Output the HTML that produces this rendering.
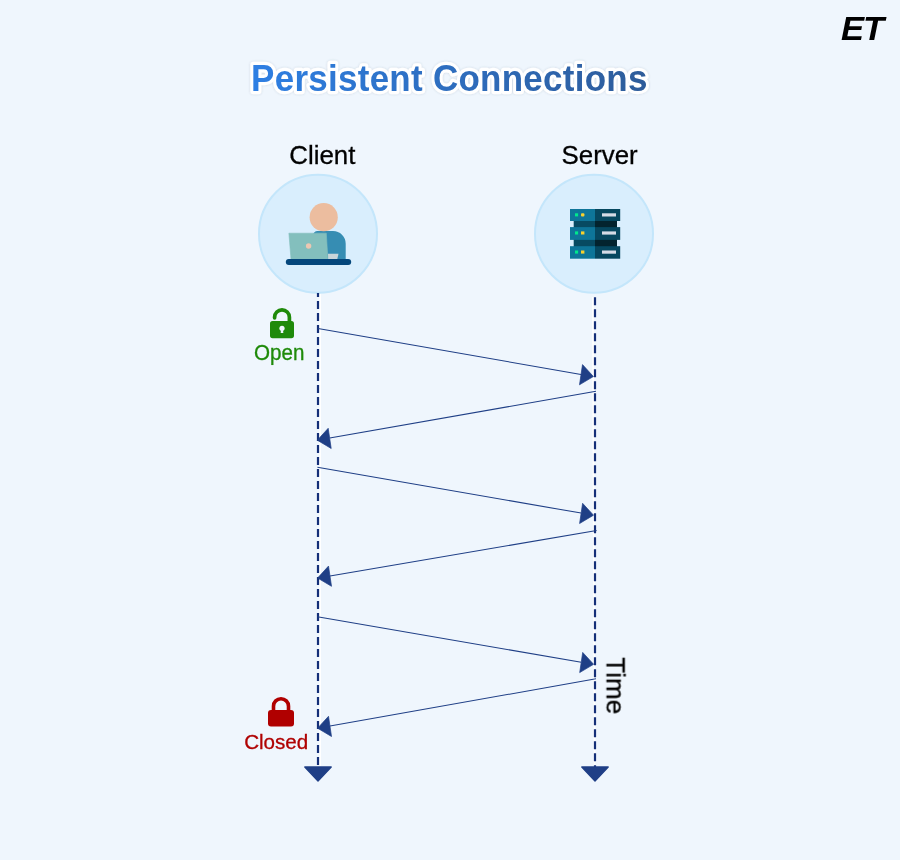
<!DOCTYPE html>
<html lang="en">
<head>
<meta charset="utf-8">
<title>Persistent Connections</title>
<style>
  html,body{margin:0;padding:0;}
  body{width:900px;height:860px;background:#eff6fd;position:relative;overflow:hidden;font-family:"Liberation Sans",sans-serif;}
  svg{position:absolute;left:0;top:0;}
  .logo{position:absolute;left:841.3px;top:11.2px;font-weight:bold;font-style:italic;font-size:32.3px;line-height:36px;color:#000;transform-origin:0 0;transform:scaleX(1.07);letter-spacing:-1px;}
</style>
</head>
<body>
<svg width="900" height="860" viewBox="0 0 900 860">
  <!-- circles -->
  <circle cx="318" cy="233.7" r="59" fill="#d9eefd" stroke="#c4e6fb" stroke-width="2"/>
  <circle cx="594" cy="233.7" r="59" fill="#d9eefd" stroke="#c4e6fb" stroke-width="2"/>

  <!-- client icon -->
  <g id="client">
    <path d="M312.7 259.2 V236 A5 5 0 0 1 317.7 231 H333 A12.7 12.7 0 0 1 345.7 243.7 V259.2 Z" fill="#368db3"/>
    <circle cx="323.7" cy="217.2" r="14.1" fill="#ecbd9f"/>
    <path d="M328 253.8 H338.5 L337.3 259 H328 Z" fill="#c9d5d9"/>
    <path d="M288.9 233.2 H326.3 L327.9 259.2 H291 Z" fill="#83bfbd" stroke="#83bfbd" stroke-width="0.6" stroke-linejoin="round"/>
    <circle cx="308.6" cy="246" r="2.7" fill="#ecc7b2"/>
    <rect x="285.8" y="259" width="65.4" height="6" rx="3" fill="#04477c"/>
  </g>

  <!-- server icon -->
  <g id="server">
    <rect x="573.7" y="220" width="21.3" height="27" fill="#074a62"/>
    <rect x="595" y="220" width="22" height="27" fill="#03232e"/>
    <g>
      <rect x="570" y="209" width="25" height="12" fill="#0e7599"/>
      <rect x="595" y="209" width="25.2" height="12" fill="#06475f"/>
      <rect x="575" y="213.3" width="3.1" height="3.1" fill="#00e98c"/>
      <rect x="581" y="213.3" width="3.4" height="3.1" rx="1" fill="#f8d12e"/>
      <rect x="602" y="213.3" width="14" height="3.2" fill="#d5dbe6"/>
    </g>
    <g transform="translate(0 18.1)">
      <rect x="570" y="209" width="25" height="12.8" fill="#0e7599"/>
      <rect x="595" y="209" width="25.2" height="12.8" fill="#06475f"/>
      <rect x="575" y="213.3" width="3.1" height="3.1" fill="#00e98c"/>
      <rect x="581" y="213.3" width="3.4" height="3.1" fill="#f8d12e"/>
      <rect x="602" y="213.3" width="14" height="3.2" fill="#d5dbe6"/>
    </g>
    <g transform="translate(0 37.2)">
      <rect x="570" y="209" width="25" height="12.5" fill="#0e7599"/>
      <rect x="595" y="209" width="25.2" height="12.5" fill="#06475f"/>
      <rect x="575" y="213.3" width="3.1" height="3.1" fill="#00e98c"/>
      <rect x="581" y="213.3" width="3.4" height="3.1" fill="#f8d12e"/>
      <rect x="602" y="213.3" width="14" height="3.2" fill="#d5dbe6"/>
    </g>
  </g>

  <!-- lifelines -->
  <line x1="320.2" y1="294" x2="320.2" y2="766" stroke="#ffffff" stroke-width="1.7"/>
  <line x1="592.9" y1="297" x2="594.6" y2="766" stroke="#ffffff" stroke-width="1.7"/>
  <g stroke="#142f78" stroke-width="2.2" fill="none">
    <line x1="318" y1="293" x2="318" y2="767" stroke-dasharray="8 4" stroke-dashoffset="4"/>
    <line x1="595" y1="297.3" x2="595" y2="767" stroke-dasharray="8 4"/>
  </g>
  <g fill="#1f3f86" stroke="#1f3f86" stroke-width="1.4" stroke-linejoin="round">
    <path d="M304.8 767 H331.2 L318 781.1 Z"/>
    <path d="M581.8 767 H608.2 L595 781.1 Z"/>
  </g>

  <!-- messages -->
  <g stroke="#1f3f86" stroke-width="1.05" fill="none">
    <line x1="318.0" y1="328.6" x2="581.0" y2="374.4"/>
    <line x1="596.0" y1="391.2" x2="329.7" y2="438.1"/>
    <line x1="317.4" y1="467.2" x2="581.1" y2="513.1"/>
    <line x1="596.6" y1="530.6" x2="330.0" y2="575.9"/>
    <line x1="317.4" y1="616.8" x2="581.2" y2="662.2"/>
    <line x1="596.0" y1="678.8" x2="330.0" y2="726.0"/>
  </g>
  <g fill="#1f3f86" stroke="#1f3f86" stroke-width="0.7" stroke-linejoin="round">
    <path d="M593.4 376.5 L579.5 384.8 L582.5 364.6 Z"/>
    <path d="M317.3 440.2 L328.2 428.3 L331.2 448.5 Z"/>
    <path d="M593.5 515.2 L579.6 523.5 L582.6 503.3 Z"/>
    <path d="M317.6 578.0 L328.5 566.1 L331.5 586.3 Z"/>
    <path d="M593.6 664.3 L579.7 672.6 L582.7 652.4 Z"/>
    <path d="M317.6 728.2 L328.5 716.3 L331.5 736.5 Z"/>
  </g>

  <!-- open lock -->
  <g>
    <rect x="270" y="321" width="24" height="17.200" rx="2.600" fill="#1f8a0a"/>
    <path d="M274.600 317.800 V317.200 A7.400 7.400 0 0 1 289.400 317.200 V322" fill="none" stroke="#1f8a0a" stroke-width="3.700" stroke-linecap="round"/>
    <circle cx="282" cy="328.300" r="2.600" fill="#eff6fd"/>
    <path d="M281 329 H283 L283.300 332.900 H280.700 Z" fill="#eff6fd"/>
  </g>
  <!-- closed lock -->
  <g>
    <rect x="268" y="710" width="26" height="16.600" rx="3" fill="#b00000"/>
    <path d="M273.500 712 V706.200 A7.500 7.500 0 0 1 288.500 706.200 V712" fill="none" stroke="#b00000" stroke-width="3.600"/>
  </g>

  <!-- title -->
  <defs>
    <linearGradient id="tg" gradientUnits="userSpaceOnUse" x1="253" y1="0" x2="646" y2="0">
      <stop offset="0" stop-color="#2f7fe3"/>
      <stop offset="1" stop-color="#2d5c9a"/>
    </linearGradient>
    <filter id="soft" x="-5%" y="-30%" width="110%" height="160%"><feDropShadow dx="0" dy="0" stdDeviation="1.2" flood-color="#3f556f" flood-opacity="0.22"/></filter>
  </defs>
  <g font-family="'Liberation Sans', sans-serif" font-weight="bold" font-size="35" letter-spacing="0.26" text-anchor="middle" transform="translate(0 90.7) scale(1 1.075) translate(0 -90.7)">
    <text x="449.4" y="90.7" fill="url(#tg)" stroke="#fff" stroke-width="6" stroke-linejoin="round" paint-order="stroke fill" filter="url(#soft)">Persistent Connections</text>
  </g>

  <!-- labels -->
  <g font-family="'Liberation Sans', sans-serif" text-anchor="middle" opacity="0.999">
    <text transform="translate(322.3 164) scale(0.995 1)" font-size="26" fill="#000" stroke="#000" stroke-width="0.3">Client</text>
    <text transform="translate(599.6 164) scale(0.994 1)" font-size="26" fill="#000" stroke="#000" stroke-width="0.3">Server</text>
    <text transform="translate(279.2 359.8) scale(1 1.03)" font-size="20.6" fill="#1f8a0a" stroke="#1f8a0a" stroke-width="0.3">Open</text>
    <text transform="translate(276.2 749) scale(1 1.01)" font-size="20.6" fill="#b00000" stroke="#b00000" stroke-width="0.3">Closed</text>
    <text transform="translate(606.4 685.7) rotate(90) scale(1 1.01)" font-size="26" fill="#000" stroke="#000" stroke-width="0.3">Time</text>
  </g>
</svg>

<div class="logo">ET</div>
</body>
</html>
